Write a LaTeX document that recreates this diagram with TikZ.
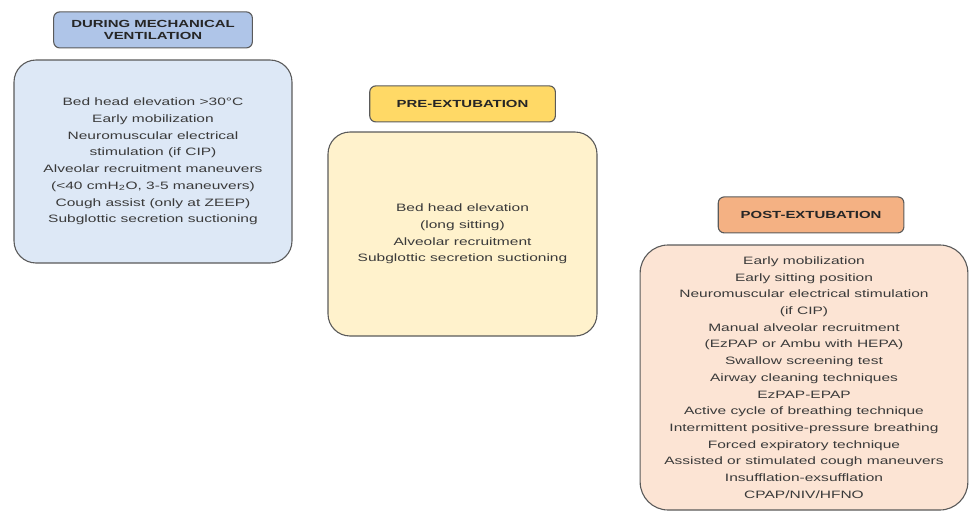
\documentclass[tikz,border=0pt]{standalone}
\usepackage{fontspec}
\setmainfont{Liberation Sans}
\usepackage{tikz}
\usetikzlibrary{positioning}

\definecolor{bluehead}{HTML}{AFC5E8}
\definecolor{bluebody}{HTML}{DDE8F6}
\definecolor{yellowhead}{HTML}{FFD966}
\definecolor{yellowbody}{HTML}{FFF2CC}
\definecolor{orangehead}{HTML}{F4B183}
\definecolor{orangebody}{HTML}{FCE4D4}
\definecolor{rim}{HTML}{5A5A5A}
\definecolor{ink}{HTML}{3A3A3A}

\tikzset{
  phase/.style={draw=rim, line width=1.1pt, rounded corners=6pt,
    minimum height=36pt, align=center, text=black!85,
    font=\fontsize{10.3}{12}\selectfont\bfseries},
  measures/.style={draw=rim, line width=1.1pt, rounded corners=22pt,
    align=center, text=ink, font=\fontsize{10.7}{16.7}\selectfont}
}

\begin{document}
\begin{tikzpicture}[x=0.68966pt, y=-1pt, xscale=1.45, transform shape]
  \useasboundingbox (0,0) rectangle (971,512);

  \node[measures, fill=bluebody, minimum width=191.7pt, minimum height=203pt]
    (mvlist) at (153,161.5)
    {Bed head elevation >30°C\\ Early mobilization\\ Neuromuscular electrical\\
     stimulation (if CIP)\\ Alveolar recruitment maneuvers\\
     (<40 cmH\textsubscript{2}O, 3-5 maneuvers)\\ Cough assist (only at ZEEP)\\
     Subglottic secretion suctioning};
  \node[phase, fill=bluehead, minimum width=137pt] (mv) [above=11pt of mvlist]
    {DURING MECHANICAL\\ VENTILATION};

  \node[measures, fill=yellowbody, minimum width=185.5pt, minimum height=204pt]
    (prelist) at (462.5,234)
    {Bed head elevation\\ (long sitting)\\ Alveolar recruitment\\
     Subglottic secretion suctioning};
  \node[phase, fill=yellowhead, minimum width=128pt] (pre) [above=9pt of prelist]
    {PRE-EXTUBATION};

  \node[measures, fill=orangebody, rounded corners=28pt, minimum width=226pt,
    minimum height=265pt] (postlist) at (804,377.5)
    {Early mobilization\\ Early sitting position\\
     Neuromuscular electrical stimulation\\ (if CIP)\\
     Manual alveolar recruitment\\ (EzPAP or Ambu with HEPA)\\
     Swallow screening test\\ Airway cleaning techniques\\ EzPAP-EPAP\\
     Active cycle of breathing technique\\
     Intermittent positive-pressure breathing\\ Forced expiratory technique\\
     Assisted or stimulated cough maneuvers\\ Insufflation-exsufflation\\
     CPAP/NIV/HFNO};
  \node[phase, fill=orangehead, minimum width=128pt] (post) [above=11pt of postlist, xshift=4.8pt]
    {POST-EXTUBATION};
\end{tikzpicture}
\end{document}
